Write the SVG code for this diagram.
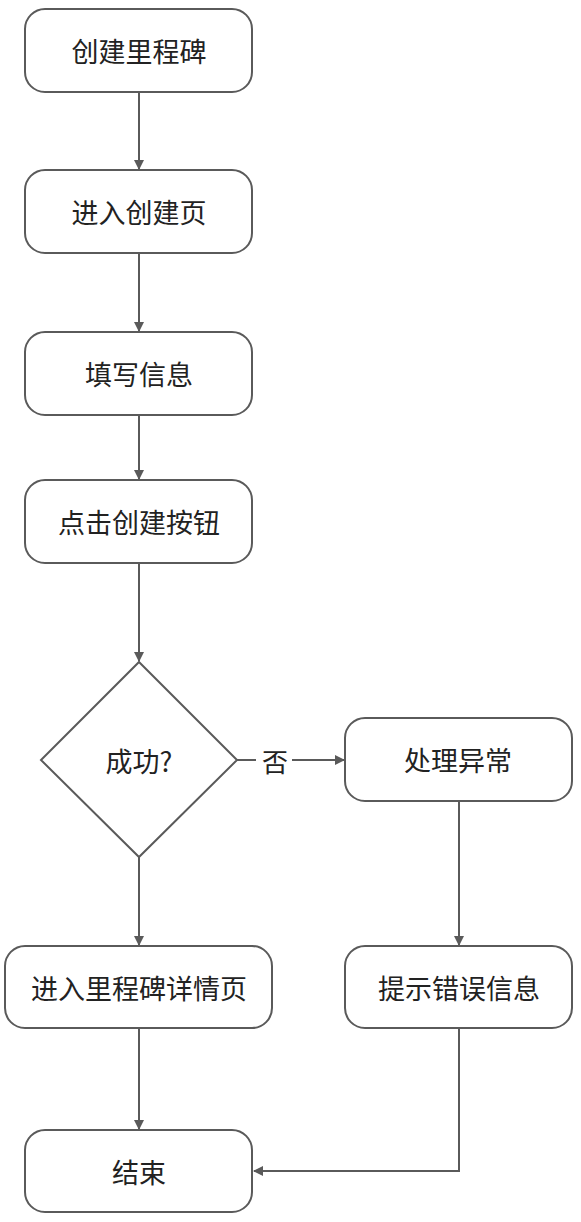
<svg xmlns="http://www.w3.org/2000/svg" width="581" height="1222" viewBox="0 0 581 1222">
<style>
.box{fill:#fff;stroke:#5a5a5a;stroke-width:2}
.t{font-family:"Noto Sans CJK SC","Liberation Sans",sans-serif;font-size:27px;fill:#222;text-anchor:middle;dominant-baseline:central}
.c{fill:none;stroke:#5a5a5a;stroke-width:2}
</style>
<defs>
<marker id="ah" markerWidth="10" markerHeight="10" refX="9" refY="5" orient="auto" markerUnits="userSpaceOnUse">
<path d="M0,0 L10,5 L0,10 z" fill="#5a5a5a"/>
</marker>
</defs>
<rect width="581" height="1222" fill="#fff"/>
<g id="connectors">
<line class="c" x1="139" y1="92" x2="139" y2="169" marker-end="url(#ah)"/>
<line class="c" x1="139" y1="253" x2="139" y2="331" marker-end="url(#ah)"/>
<line class="c" x1="139" y1="415" x2="139" y2="479" marker-end="url(#ah)"/>
<line class="c" x1="139" y1="563" x2="139" y2="661" marker-end="url(#ah)"/>
<line class="c" x1="139" y1="857" x2="139" y2="945" marker-end="url(#ah)"/>
<line class="c" x1="237" y1="760" x2="344" y2="760" marker-end="url(#ah)"/>
<line class="c" x1="459" y1="801" x2="459" y2="945" marker-end="url(#ah)"/>
<line class="c" x1="139" y1="1028" x2="139" y2="1129" marker-end="url(#ah)"/>
<polyline class="c" points="459,1028 459,1171 254,1171" marker-end="url(#ah)"/>
<rect x="256" y="745" width="36" height="32" fill="#fff"/>
<text class="t" x="275" y="760" style="font-size:26px">否</text>
</g>
<g id="n1"><rect class="box" x="25" y="9" width="227" height="83" rx="20"/><text class="t" x="139" y="50">创建里程碑</text></g>
<g id="n2"><rect class="box" x="25" y="170" width="227" height="83" rx="20"/><text class="t" x="139" y="211">进入创建页</text></g>
<g id="n3"><rect class="box" x="25" y="332" width="227" height="83" rx="20"/><text class="t" x="139" y="373">填写信息</text></g>
<g id="n4"><rect class="box" x="25" y="480" width="227" height="83" rx="20"/><text class="t" x="139" y="521">点击创建按钮</text></g>
<g id="d1"><polygon class="box" points="139,662 237,760 139,857 41,760"/><text class="t" x="139" y="760">成功?</text></g>
<g id="n5"><rect class="box" x="345" y="718" width="227" height="83" rx="20"/><text class="t" x="458" y="759">处理异常</text></g>
<g id="n6"><rect class="box" x="5" y="946" width="267" height="82" rx="20"/><text class="t" x="139" y="987">进入里程碑详情页</text></g>
<g id="n7"><rect class="box" x="345" y="946" width="227" height="82" rx="20"/><text class="t" x="459" y="987">提示错误信息</text></g>
<g id="n8"><rect class="box" x="25" y="1130" width="227" height="82" rx="20"/><text class="t" x="139" y="1171">结束</text></g>
</svg>
